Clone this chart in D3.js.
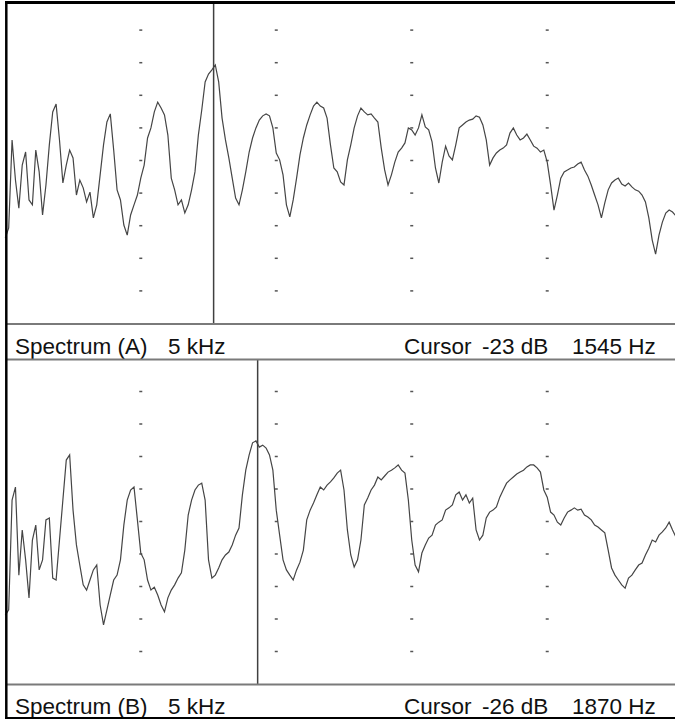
<!DOCTYPE html>
<html lang="en">
<head>
	<meta charset="utf-8">
<style>
body {
	margin: 0;
	background: #fff;
}
svg {
	display: block;
}
text {
	font-family: "Liberation Sans", Arial, Helvetica, sans-serif;
	font-size: 22.5px;
	fill: #111;
}
</style>
<title>Spectrum A / B</title>
<script type="text/javascript" src="https://cdnjs.cloudflare.com/ajax/libs/d3/7.8.5/d3.min.js"></script>
</head>
<body>
<script type="text/javascript">

// one value per 25 Hz bin, dB (0 at top of a panel, -100 at the bottom)
var binHz = 25;

var specA = [
	-73.8, -70.7, -43.7, -56.0, -64.6, -51.4, -47.4, -62.1, -63.6, -46.8,
	-53.5, -66.7, -57.5, -45.2, -35.1, -32.7, -43.7, -56.9, -51.4, -46.8,
	-49.2, -60.6, -56.0, -58.4, -62.7, -59.7, -67.6, -63.6, -54.4, -45.2,
	-38.2, -35.7, -46.8, -59.0, -62.1, -69.8, -72.9, -66.7, -63.6, -60.6,
	-55.4, -51.4, -43.1, -40.0, -35.1, -32.1, -33.9, -36.0, -42.2, -55.4,
	-59.0, -63.6, -62.1, -66.1, -63.6, -59.0, -53.5, -42.2, -34.5, -25.9,
	-23.5, -22.2, -20.7, -25.9, -37.0, -43.7, -49.2, -55.4, -61.5, -63.6,
	-59.0, -53.5, -47.4, -43.1, -40.0, -37.6, -36.3, -35.7, -36.3, -40.0,
	-47.7, -49.8, -54.4, -63.6, -67.3, -62.1, -55.4, -48.3, -43.1, -39.1,
	-36.0, -33.3, -32.1, -33.3, -33.9, -37.0, -45.2, -52.3, -53.5, -56.6,
	-57.5, -49.8, -45.2, -40.0, -36.3, -33.9, -35.1, -36.0, -35.7, -37.0,
	-38.2, -46.2, -52.9, -57.5, -54.4, -50.5, -47.4, -46.2, -44.6, -40.0,
	-40.6, -42.2, -40.0, -36.0, -39.7, -40.6, -44.3, -52.3, -56.9, -50.5,
	-45.6, -48.6, -49.8, -45.2, -40.0, -39.1, -38.2, -37.6, -37.3, -36.3,
	-36.7, -39.1, -43.7, -51.4, -49.2, -47.7, -46.8, -46.2, -45.2, -41.6,
	-40.0, -42.2, -43.7, -43.1, -41.9, -43.7, -45.6, -46.2, -47.4, -46.8,
	-50.5, -57.5, -65.2, -60.6, -55.4, -53.5, -52.9, -52.3, -52.0, -51.1,
	-50.5, -52.9, -54.8, -57.5, -60.6, -63.6, -67.6, -63.0, -59.0, -56.9,
	-56.0, -55.4, -57.2, -57.8, -56.9, -58.1, -59.0, -59.4, -60.6, -62.7,
	-67.6, -74.4, -78.7, -72.9, -68.9, -66.1, -65.2, -65.8, -67.0
];

var specB = [
	-78.8, -77.2, -43.4, -39.4, -66.5, -52.6, -61.8, -73.5, -55.7, -51.1,
	-64.9, -61.8, -49.5, -48.9, -67.4, -68.0, -55.7, -43.4, -31.1, -29.5,
	-46.5, -57.2, -63.4, -69.5, -71.1, -68.0, -64.9, -63.4, -75.7, -81.8,
	-77.2, -72.6, -68.0, -66.5, -61.8, -51.1, -43.4, -40.3, -39.4, -49.5,
	-59.7, -61.8, -68.0, -71.1, -70.2, -72.6, -75.7, -77.8, -73.5, -71.1,
	-69.5, -67.4, -65.8, -58.8, -48.0, -43.4, -40.3, -38.8, -38.2, -43.4,
	-61.8, -67.4, -66.5, -64.3, -61.8, -60.3, -59.4, -57.2, -54.2, -52.0,
	-41.8, -34.2, -29.5, -25.8, -25.2, -27.1, -26.5, -27.4, -29.5, -34.2,
	-46.5, -54.2, -61.8, -64.9, -66.5, -68.0, -64.9, -62.5, -58.8, -49.5,
	-46.5, -44.3, -41.8, -39.4, -40.3, -38.8, -37.8, -36.6, -35.1, -34.2,
	-40.3, -52.6, -60.3, -64.0, -61.8, -55.7, -44.9, -42.8, -40.3, -38.8,
	-36.3, -37.2, -36.0, -34.8, -34.2, -33.5, -32.6, -34.2, -35.1, -43.4,
	-55.7, -63.4, -65.5, -59.7, -57.2, -55.1, -54.2, -51.1, -50.2, -49.5,
	-46.5, -45.8, -44.9, -41.8, -40.9, -43.4, -41.8, -44.3, -42.8, -52.6,
	-55.7, -54.2, -48.9, -47.1, -46.5, -45.5, -42.5, -40.3, -38.2, -37.2,
	-36.3, -35.4, -34.8, -34.2, -33.2, -32.6, -32.6, -33.5, -34.8, -40.3,
	-42.5, -47.1, -48.0, -50.2, -51.1, -48.9, -47.1, -46.5, -45.8, -46.5,
	-46.2, -48.0, -48.6, -49.5, -51.1, -51.7, -52.6, -53.5, -58.8, -64.3,
	-66.5, -68.0, -69.5, -70.5, -67.4, -66.5, -64.9, -63.4, -62.8, -60.3,
	-58.2, -55.7, -56.3, -54.2, -53.2, -52.0, -50.2, -52.6, -54.8
];

var gridHz = [1000, 2000, 3000, 4000];
var gridDb = [-10, -20, -30, -40, -50, -60, -70, -80, -90];

var spanLabel = "5 kHz";
var titles = ["Spectrum (A)", "Spectrum (B)"];
var cursorHz = [1545, 1870];
var cursorDb = [-23, -26];

var width = 675,
	height = 719;

var svg = d3.select("body")
	.append("svg")
	.attr("width", width)
	.attr("height", height);

svg.append("rect")
	.attr("width", width)
	.attr("height", height)
	.attr("fill", "#fff");

var x = d3.scaleLinear().domain([0, 5000]).range([5.3, 682.7]);

var panels = [
	{ data: specA, top: -2.5, bottom: 323.5, base: 353.5, title: titles[0], cur: cursorHz[0], db: cursorDb[0] },
	{ data: specB, top: 359, bottom: 684, base: 714, title: titles[1], cur: cursorHz[1], db: cursorDb[1] }
];

panels.forEach(function(p) {

	var y = d3.scaleLinear().domain([-100, 0]).range([p.bottom, p.top]);

	var g = svg.append("g");

	// dotted grid
	gridHz.forEach(function(f) {
		g.selectAll(null)
			.data(gridDb)
			.enter()
			.append("rect")
			.attr("x", x(f) - 1.5)
			.attr("y", function(d) { return y(d) - 0.75; })
			.attr("width", 3)
			.attr("height", 1.5)
			.attr("fill", "#555");
	});

	var line = d3.line()
		.x(function(d, i) { return x(i * binHz); })
		.y(function(d) { return y(d); });

	g.append("path")
		.datum(p.data)
		.attr("d", line)
		.attr("fill", "none")
		.attr("stroke", "#454545")
		.attr("stroke-width", 1.2)
		.attr("stroke-linejoin", "miter");

	// cursor
	g.append("line")
		.attr("x1", x(p.cur) - 1)
		.attr("x2", x(p.cur) - 1)
		.attr("y1", Math.max(p.top, 3))
		.attr("y2", p.bottom)
		.attr("stroke", "#404040")
		.attr("stroke-width", 1.5);

	// status bar
	g.append("line")
		.attr("x1", 6)
		.attr("x2", width)
		.attr("y1", p.bottom + 0.5)
		.attr("y2", p.bottom + 0.5)
		.attr("stroke", "#7a7a7a")
		.attr("stroke-width", 2);

	g.append("text").attr("x", 15).attr("y", p.base).text(p.title);
	g.append("text").attr("x", 168).attr("y", p.base).text(spanLabel);
	g.append("text").attr("x", 404).attr("y", p.base).text("Cursor");
	g.append("text").attr("x", 482).attr("y", p.base).text(p.db + " dB");
	g.append("text").attr("x", 572).attr("y", p.base).text(p.cur + " Hz");
});

svg.append("line")
	.attr("x1", 6).attr("x2", width)
	.attr("y1", 359.5).attr("y2", 359.5)
	.attr("stroke", "#7a7a7a")
	.attr("stroke-width", 2);

// frame
svg.append("line")
	.attr("x1", 5).attr("x2", width)
	.attr("y1", 2.5).attr("y2", 2.5)
	.attr("stroke", "#000")
	.attr("stroke-width", 3);

svg.append("line")
	.attr("x1", 6.3).attr("x2", 6.3)
	.attr("y1", 1).attr("y2", height)
	.attr("stroke", "#000")
	.attr("stroke-width", 2.5);

svg.append("line")
	.attr("x1", 5).attr("x2", width)
	.attr("y1", 718).attr("y2", 718)
	.attr("stroke", "#000")
	.attr("stroke-width", 2);

</script>
</body>
</html>
